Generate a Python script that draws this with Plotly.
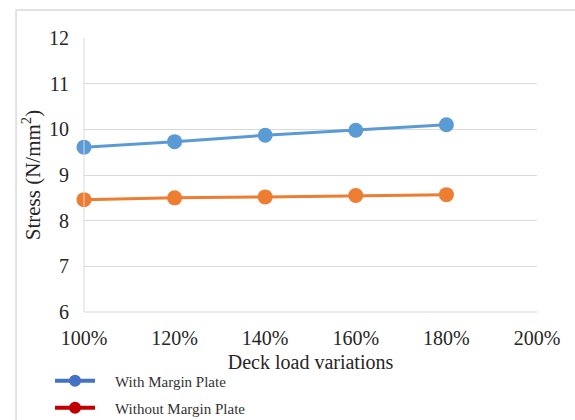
import plotly.graph_objects as go

# Deck load variation (% of design load) and resulting stress values
load_pct = [100, 120, 140, 160, 180]
with_margin = [9.61, 9.73, 9.87, 9.98, 10.10]
without_margin = [8.46, 8.50, 8.52, 8.55, 8.57]

x_ticks = [100, 120, 140, 160, 180, 200]
x_tick_text = ["100%", "120%", "140%", "160%", "180%", "200%"]
y_ticks = [6, 7, 8, 9, 10, 11, 12]

SERIF = "Liberation Serif"
TEXT = "#262626"
PAD = "\u00a0\u00a0\u00a0\u00a0"  # gap between legend symbol and label

fig = go.Figure()

# Data lines
fig.add_trace(go.Scatter(
    x=load_pct, y=with_margin, mode="lines+markers",
    line=dict(color="#5B9BD5", width=3),
    marker=dict(size=15, color="#5B9BD5"),
    showlegend=False, cliponaxis=False,
))
fig.add_trace(go.Scatter(
    x=load_pct, y=without_margin, mode="lines+markers",
    line=dict(color="#ED7D31", width=3),
    marker=dict(size=15, color="#ED7D31"),
    showlegend=False, cliponaxis=False,
))

# Legend entries (each in its own legend box)
fig.add_trace(go.Scatter(
    x=[None], y=[None], mode="lines+markers", name=PAD + "With Margin Plate",
    line=dict(color="#4472C4", width=4), marker=dict(size=12, color="#4472C4"),
    legend="legend",
))
fig.add_trace(go.Scatter(
    x=[None], y=[None], mode="lines+markers", name=PAD + "Without Margin Plate",
    line=dict(color="#C00000", width=4), marker=dict(size=12, color="#C00000"),
    legend="legend2",
))

legend_style = dict(
    xanchor="left", yanchor="middle",
    font=dict(size=15, family=SERIF, color="#333333"),
    bgcolor="rgba(0,0,0,0)", itemwidth=40,
)

fig.update_layout(
    width=575, height=420,
    margin=dict(l=84, r=38, t=38, b=108, autoexpand=False),
    paper_bgcolor="white", plot_bgcolor="white",
    font=dict(family=SERIF, color=TEXT, size=20),
    xaxis=dict(
        range=[100, 200], tickvals=x_ticks, ticktext=x_tick_text,
        showgrid=False, zeroline=False, showline=False,
        ticks="", ticklabelstandoff=12,
        tickfont=dict(size=20, family=SERIF, color=TEXT),
        title=dict(text="Deck load variations",
                   font=dict(size=20, family=SERIF, color=TEXT), standoff=6),
    ),
    yaxis=dict(
        range=[6, 12], tickvals=y_ticks,
        showgrid=True, gridcolor="#D9D9D9", gridwidth=1,
        zeroline=False, showline=False, ticks="", ticklabelstandoff=14,
        tickfont=dict(size=20, family=SERIF, color=TEXT),
        title=dict(text="Stress (N/mm<sup>2</sup>)",
                   font=dict(size=21, family=SERIF, color=TEXT), standoff=2),
    ),
    legend=dict(x=-0.075, y=-0.252, **legend_style),
    legend2=dict(x=-0.075, y=-0.350, **legend_style),
    shapes=[
        # plot-area frame lines (left and bottom)
        dict(type="line", xref="paper", yref="paper", x0=0, x1=0, y0=0, y1=1,
             line=dict(color="#D9D9D9", width=1)),
        dict(type="line", xref="paper", yref="paper", x0=0, x1=1, y0=0, y1=0,
             line=dict(color="#D9D9D9", width=1)),
        # chart border
        dict(type="rect", xref="paper", yref="paper",
             x0=-0.150, x1=1.2, y0=-0.5, y1=1.102,
             line=dict(color="#D9D9D9", width=1.5), layer="below"),
    ],
)

fig.write_html("out.html")
